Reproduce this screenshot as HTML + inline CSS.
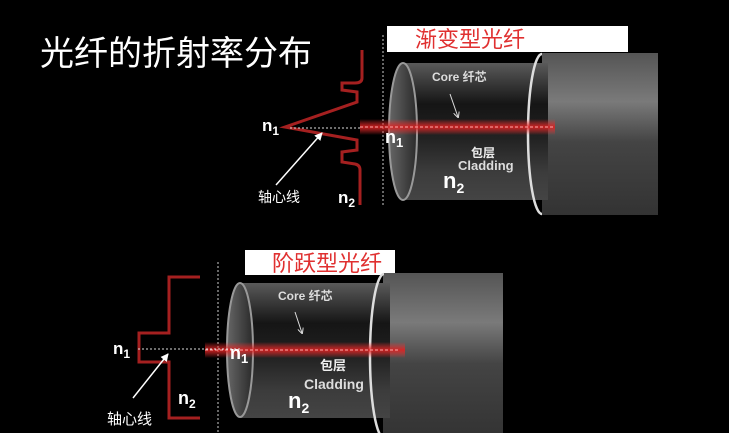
<!DOCTYPE html>
<html><head><meta charset="utf-8"><style>
html,body{margin:0;padding:0;background:#000;width:729px;height:433px;overflow:hidden}
svg{display:block}
text{font-family:"Liberation Sans","Noto Sans CJK SC",sans-serif}
</style></head><body>
<svg width="729" height="433" viewBox="0 0 729 433" xmlns="http://www.w3.org/2000/svg">
<defs>
<linearGradient id="outer" x1="0" y1="0" x2="0" y2="1">
<stop offset="0" stop-color="#555"/><stop offset="0.3" stop-color="#7a7a7a"/><stop offset="0.55" stop-color="#444"/><stop offset="1" stop-color="#333"/>
</linearGradient>
<linearGradient id="inner" x1="0" y1="0" x2="0" y2="1">
<stop offset="0" stop-color="#5a5a5a"/><stop offset="0.3" stop-color="#151515"/><stop offset="0.55" stop-color="#222"/><stop offset="0.8" stop-color="#3c3c3c"/><stop offset="1" stop-color="#444"/>
</linearGradient>
<linearGradient id="face" x1="0" y1="0" x2="1" y2="0">
<stop offset="0" stop-color="#666"/><stop offset="1" stop-color="#2a2a2a"/>
</linearGradient>
<linearGradient id="beam" x1="0" y1="0" x2="0" y2="1">
<stop offset="0" stop-color="#f33" stop-opacity="0"/><stop offset="0.5" stop-color="#d22" stop-opacity="0.9"/><stop offset="1" stop-color="#f33" stop-opacity="0"/>
</linearGradient>
<marker id="ah" markerWidth="8" markerHeight="8" refX="7" refY="4" orient="auto" markerUnits="userSpaceOnUse"><path d="M0,0 L8,4 L0,8 z" fill="#fff"/></marker>
<marker id="ah2" markerWidth="6" markerHeight="6" refX="5" refY="3" orient="auto" markerUnits="userSpaceOnUse"><path d="M0,0 L6,3 L0,6" fill="none" stroke="#ddd" stroke-width="1"/></marker>
</defs>

<text x="40" y="65" font-size="34" fill="#fff">光纤的折射率分布</text>

<!-- ===== TOP ===== -->
<rect x="387" y="26" width="241" height="26" fill="#fff"/>
<text x="415" y="47" font-size="22" fill="#e03030">渐变型光纤</text>
<line x1="383" y1="35" x2="383" y2="207" stroke="#ccc" stroke-width="1" stroke-dasharray="2,2"/>

<rect x="542" y="53" width="116" height="162" fill="url(#outer)"/>
<rect x="403" y="63" width="145" height="137" fill="url(#inner)"/>
<ellipse cx="403" cy="131.5" rx="14" ry="68.5" fill="url(#face)" stroke="#999" stroke-width="2"/>
<path d="M542,54 A14,80 0 0,0 542,214" fill="none" stroke="#ddd" stroke-width="2.5"/>
<rect x="360" y="119" width="195" height="16" fill="url(#beam)"/>
<line x1="360" y1="127" x2="555" y2="127" stroke="#ffaaaa" stroke-width="1" stroke-dasharray="3,2"/>

<path d="M362,50 L362,78 Q362,83 355,83 L342,83 L342,90 L357,92 L357,102 L285,127 L357,140 L357,150 L342,152 L342,162 L355,164 Q360,165 360,170 L360,205" fill="none" stroke="#a52020" stroke-width="3"/>
<line x1="290" y1="128" x2="360" y2="128" stroke="#ddd" stroke-width="1" stroke-dasharray="2,2"/>
<line x1="276" y1="185" x2="322" y2="133" stroke="#fff" stroke-width="1.5" marker-end="url(#ah)"/>
<text x="262" y="131" font-size="17" font-weight="bold" fill="#fff">n<tspan font-size="12" dy="4">1</tspan></text>
<text x="258" y="202" font-size="14" fill="#fff">轴心线</text>
<text x="338" y="203" font-size="17" font-weight="bold" fill="#fff">n<tspan font-size="12" dy="4">2</tspan></text>

<text x="432" y="81" font-size="12" font-weight="bold" fill="#ddd">Core 纤芯</text>
<line x1="450" y1="94" x2="458" y2="117" stroke="#ddd" stroke-width="1" marker-end="url(#ah2)"/>
<text x="385" y="143" font-size="18" font-weight="bold" fill="#fff">n<tspan font-size="13" dy="4">1</tspan></text>
<text x="471" y="157" font-size="12" font-weight="bold" fill="#eee">包层</text>
<text x="458" y="170" font-size="13" font-weight="bold" fill="#ddd">Cladding</text>
<text x="443" y="188" font-size="22" font-weight="bold" fill="#fff">n<tspan font-size="14" dy="5">2</tspan></text>

<!-- ===== BOTTOM ===== -->
<rect x="245" y="250" width="150" height="25" fill="#fff"/>
<text x="272" y="271" font-size="22" fill="#e03030">阶跃型光纤</text>
<line x1="218" y1="262" x2="218" y2="433" stroke="#ccc" stroke-width="1" stroke-dasharray="2,2"/>

<rect x="383" y="273" width="120" height="165" fill="url(#outer)"/>
<rect x="240" y="283" width="150" height="135" fill="url(#inner)"/>
<ellipse cx="240" cy="350" rx="13" ry="67" fill="url(#face)" stroke="#999" stroke-width="2"/>
<path d="M384,274 A14,82 0 0,0 384,438" fill="none" stroke="#ddd" stroke-width="2.5"/>
<rect x="205" y="342" width="200" height="16" fill="url(#beam)"/>
<line x1="205" y1="350" x2="400" y2="350" stroke="#ffaaaa" stroke-width="1" stroke-dasharray="3,2"/>

<path d="M200,277 L169,277 L169,333 L139,333 L139,362 L169,362 L169,418 L200,418" fill="none" stroke="#a52020" stroke-width="3"/>
<line x1="138" y1="349" x2="240" y2="349" stroke="#ddd" stroke-width="1" stroke-dasharray="2,2"/>
<line x1="133" y1="398" x2="168" y2="354" stroke="#fff" stroke-width="1.5" marker-end="url(#ah)"/>
<text x="113" y="354" font-size="17" font-weight="bold" fill="#fff">n<tspan font-size="12" dy="4">1</tspan></text>
<text x="107" y="424" font-size="15" fill="#fff">轴心线</text>
<text x="178" y="404" font-size="18" font-weight="bold" fill="#fff">n<tspan font-size="12" dy="4">2</tspan></text>

<text x="278" y="300" font-size="12" font-weight="bold" fill="#ddd">Core 纤芯</text>
<line x1="295" y1="312" x2="302" y2="333" stroke="#ddd" stroke-width="1" marker-end="url(#ah2)"/>
<text x="230" y="359" font-size="18" font-weight="bold" fill="#fff">n<tspan font-size="13" dy="4">1</tspan></text>
<text x="320" y="370" font-size="13" font-weight="bold" fill="#eee">包层</text>
<text x="304" y="389" font-size="14" font-weight="bold" fill="#ddd">Cladding</text>
<text x="288" y="408" font-size="22" font-weight="bold" fill="#fff">n<tspan font-size="14" dy="5">2</tspan></text>
</svg>
</body></html>
